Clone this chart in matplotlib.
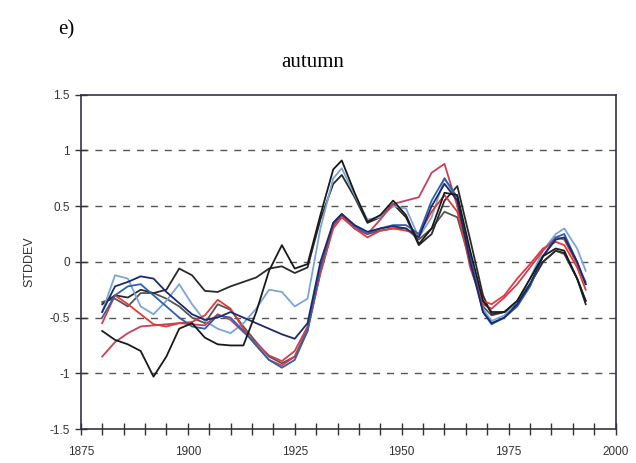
import matplotlib
matplotlib.use("Agg")
import matplotlib.pyplot as plt

years = [1880, 1883, 1886, 1889, 1892, 1895, 1898, 1901, 1904, 1907, 1910, 1913, 1916, 1919,
         1922, 1925, 1928, 1931, 1934, 1936, 1939, 1942, 1945, 1948, 1951, 1954, 1957, 1960,
         1963, 1966, 1969, 1971, 1974, 1977, 1980, 1983, 1986, 1988, 1991, 1993]

# black lines
black1 = [-0.38, -0.30, -0.32, -0.25, -0.28, -0.25, -0.06, -0.12, -0.26, -0.27, -0.22, -0.18, -0.14, -0.06,
          -0.04, -0.10, -0.05, 0.38, 0.70, 0.78, 0.58, 0.35, 0.40, 0.52, 0.40, 0.15, 0.25, 0.55,
          0.68, 0.20, -0.30, -0.47, -0.45, -0.38, -0.20, 0.00, 0.10, 0.08, -0.15, -0.38]
black2 = [-0.62, -0.70, -0.74, -0.80, -1.03, -0.85, -0.60, -0.55, -0.68, -0.74, -0.75, -0.75, -0.45, -0.08,
          0.15, -0.06, -0.02, 0.42, 0.83, 0.91, 0.62, 0.36, 0.42, 0.55, 0.42, 0.16, 0.30, 0.62,
          0.60, 0.10, -0.35, -0.45, -0.45, -0.35, -0.15, 0.05, 0.12, 0.10, -0.15, -0.35]
darkgray = [-0.36, -0.33, -0.40, -0.28, -0.28, -0.33, -0.40, -0.50, -0.55, -0.38, -0.43, -0.58, -0.72, -0.85,
            -0.91, -0.85, -0.60, -0.10, 0.32, 0.42, 0.30, 0.25, 0.28, 0.30, 0.30, 0.20, 0.30, 0.45,
            0.40, 0.00, -0.40, -0.48, -0.45, -0.35, -0.20, 0.00, 0.10, 0.07, -0.15, -0.35]
# blue lines
lightblue = [-0.45, -0.12, -0.15, -0.40, -0.47, -0.35, -0.20, -0.38, -0.53, -0.60, -0.64, -0.55, -0.42, -0.25,
             -0.27, -0.40, -0.33, 0.30, 0.75, 0.84, 0.60, 0.38, 0.40, 0.50, 0.48, 0.22, 0.40, 0.75,
             0.55, 0.00, -0.42, -0.53, -0.48, -0.35, -0.15, 0.10, 0.25, 0.30, 0.12, -0.08]
navy = [-0.45, -0.22, -0.18, -0.13, -0.15, -0.27, -0.37, -0.47, -0.52, -0.50, -0.45, -0.50, -0.55, -0.60,
        -0.65, -0.69, -0.55, 0.00, 0.35, 0.43, 0.33, 0.27, 0.30, 0.32, 0.30, 0.22, 0.50, 0.70,
        0.55, 0.00, -0.45, -0.55, -0.50, -0.38, -0.20, 0.05, 0.20, 0.22, 0.00, -0.20]
blue = [-0.50, -0.30, -0.22, -0.20, -0.30, -0.40, -0.50, -0.58, -0.60, -0.48, -0.50, -0.62, -0.75, -0.88,
        -0.95, -0.88, -0.62, -0.05, 0.35, 0.43, 0.32, 0.25, 0.30, 0.33, 0.33, 0.25, 0.55, 0.75,
        0.58, 0.05, -0.45, -0.56, -0.50, -0.40, -0.22, 0.05, 0.22, 0.25, 0.00, -0.20]
# red lines
red1 = [-0.55, -0.30, -0.38, -0.47, -0.56, -0.58, -0.55, -0.54, -0.48, -0.34, -0.42, -0.60, -0.75, -0.88,
        -0.93, -0.85, -0.62, -0.10, 0.30, 0.40, 0.30, 0.22, 0.28, 0.30, 0.28, 0.25, 0.45, 0.60,
        0.45, 0.00, -0.35, -0.38, -0.30, -0.15, -0.02, 0.12, 0.18, 0.15, -0.05, -0.25]
red2 = [-0.85, -0.72, -0.64, -0.58, -0.57, -0.56, -0.55, -0.56, -0.57, -0.47, -0.52, -0.63, -0.73, -0.84,
        -0.89, -0.80, -0.58, -0.08, 0.33, 0.42, 0.30, 0.25, 0.38, 0.52, 0.55, 0.58, 0.80, 0.88,
        0.50, -0.05, -0.38, -0.42, -0.32, -0.20, -0.05, 0.10, 0.22, 0.20, -0.02, -0.18]

series = [(darkgray, "#555555"), (black1, "#2a2a2a"), (lightblue, "#7aa6d6"),
          (red2, "#c8405a"), (red1, "#e23a3a"), (blue, "#3060b0"),
          (navy, "#1c2a6a"), (black2, "#1a1a1a")]

fig = plt.figure(figsize=(6.36, 4.63), dpi=100)
ax = fig.add_axes([0.127, 0.0734, 0.841, 0.722])

for vals, col in series:
    ax.plot(years, vals, color=col, lw=1.3)

for yv in [-1, -0.5, 0, 0.5, 1]:
    ax.axhline(yv, color="#555555", lw=1.0, ls=(0, (5, 5)), zorder=0)

ax.set_xlim(1875, 2000)
ax.set_ylim(-1.5, 1.5)
ax.set_xticks([1875, 1900, 1925, 1950, 1975, 2000])
ax.set_xticks(list(range(1880, 2000, 5)), minor=True)
ax.set_yticks([-1.5, -1, -0.5, 0, 0.5, 1, 1.5])
ax.set_yticklabels(["-1.5", "-1", "-0.5", "0", "0.5", "1", "1.5"])

ax.tick_params(axis="both", which="both", direction="inout", color="#333333",
               labelsize=8.5, labelcolor="#333333")
ax.tick_params(axis="x", which="both", length=8, width=1, pad=8)
ax.tick_params(axis="y", which="major", length=8, width=1, pad=4)
for lab in ax.get_xticklabels() + ax.get_yticklabels():
    lab.set_family("Liberation Sans")

for sp in ax.spines.values():
    sp.set_color("#333344")
    sp.set_linewidth(1.2)

ax.set_ylabel("STDDEV", fontsize=9, family="Liberation Sans", color="#333333", labelpad=10)

fig.text(0.491, 0.866, "autumn", ha="center", va="center", fontsize=15, family="Liberation Serif")
fig.text(0.104, 0.935, "e)", ha="center", va="center", fontsize=15, family="Liberation Serif")

fig.savefig("out.png", dpi=100)
